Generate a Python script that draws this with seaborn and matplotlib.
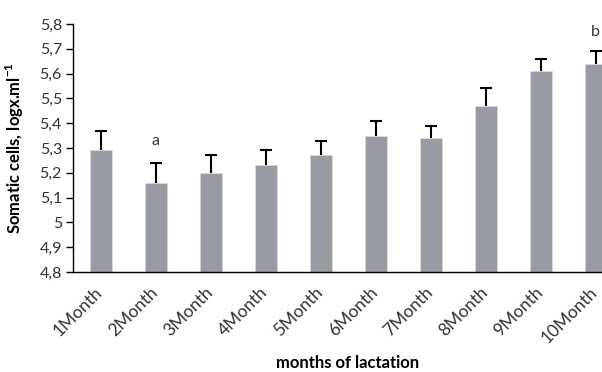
"""
Somatic cells by month of lactation - bar chart with upper error bars
"""

import matplotlib
matplotlib.use('Agg')
import matplotlib.pyplot as plt
import matplotlib.transforms as mtransforms
import seaborn as sns
import pandas as pd
import numpy as np

sns.set_style("white")
plt.rcParams['font.family'] = ['Lato', 'DejaVu Sans']
plt.rcParams['mathtext.fontset'] = 'custom'
plt.rcParams['mathtext.bf'] = 'Lato:bold'
plt.rcParams['mathtext.rm'] = 'Lato'

# Data
months = ['1Month', '2Month', '3Month', '4Month', '5Month',
          '6Month', '7Month', '8Month', '9Month', '10Month']
means = [5.29, 5.16, 5.20, 5.23, 5.27, 5.35, 5.34, 5.47, 5.61, 5.64]
errors = [0.08, 0.08, 0.07, 0.06, 0.06, 0.06, 0.05, 0.07, 0.05, 0.05]
letters = {'2Month': ('a', 5.30), '10Month': ('b', 5.74)}
ytick_vals = [4.8, 4.9, 5.0, 5.1, 5.2, 5.3, 5.4, 5.5, 5.6, 5.7, 5.8]
ytick_labels = ['4,8', '4,9', '5', '5,1', '5,2', '5,3', '5,4', '5,5', '5,6', '5,7', '5,8']

df = pd.DataFrame({'month': months, 'mean': means, 'err': errors})

text_color = '#333333'
bar_color = '#989aa3'

fig = plt.figure(figsize=(6.02, 3.72), dpi=100)
ax = fig.add_axes([0.1213, 0.2688, 0.9136, 0.6667])

sns.barplot(data=df, x='month', y='mean', color=bar_color, width=0.4,
            edgecolor='#d8d9dc', linewidth=0.6, errorbar=None, ax=ax)

# upper error bars only (hide the lower cap)
eb = ax.errorbar(np.arange(len(months)), df['mean'], yerr=[np.zeros(len(errors)), df['err']],
                 fmt='none', ecolor='black', elinewidth=1.5, capsize=4, capthick=1.5)
eb[1][0].set_visible(False)

for m, (txt, yv) in letters.items():
    ax.text(months.index(m), yv, txt, ha='center', va='bottom', fontsize=11.5, color=text_color)

ax.set_ylim(4.8, 5.8)
ax.set_xlim(-0.5, len(months) - 0.5)
ax.set_yticks(ytick_vals)
ax.set_yticklabels(ytick_labels, fontsize=11.5, color=text_color)

# ticks at category boundaries, labels at category centres
ax.set_xticks(np.arange(len(months) + 1) - 0.5)
ax.set_xticklabels([])
ax.set_xticks(np.arange(len(months)), minor=True)
ax.set_xticklabels(months, minor=True, rotation=45, ha='right', rotation_mode='anchor',
                   fontsize=12.5, color=text_color)
ax.tick_params(axis='x', which='minor', length=0, pad=9)
ax.tick_params(axis='x', which='major', direction='out', length=5, width=1, color='black')
ax.tick_params(axis='y', direction='out', length=5, width=1, color='black', pad=3, left=True)

# nudge rotated labels a little to the left so the last one stays inside
shift = mtransforms.ScaledTranslation(-6 / 100, 0, fig.dpi_scale_trans)
for lbl in ax.get_xticklabels(minor=True):
    lbl.set_transform(lbl.get_transform() + shift)

for s in ['top', 'right']:
    ax.spines[s].set_visible(False)
for s in ['left', 'bottom']:
    ax.spines[s].set_color('black')
    ax.spines[s].set_linewidth(1)

ax.set_ylabel(r'Somatic cells, logx.ml$^{\mathbf{-1}}$', fontsize=12, fontweight='bold', color='black')
ax.yaxis.set_label_coords(-0.085, 0.5)
ax.set_xlabel('months of lactation', fontsize=12, fontweight='bold', color='black')
ax.xaxis.set_label_coords(0.5, -0.335)

fig.savefig('out.png', dpi=100)
